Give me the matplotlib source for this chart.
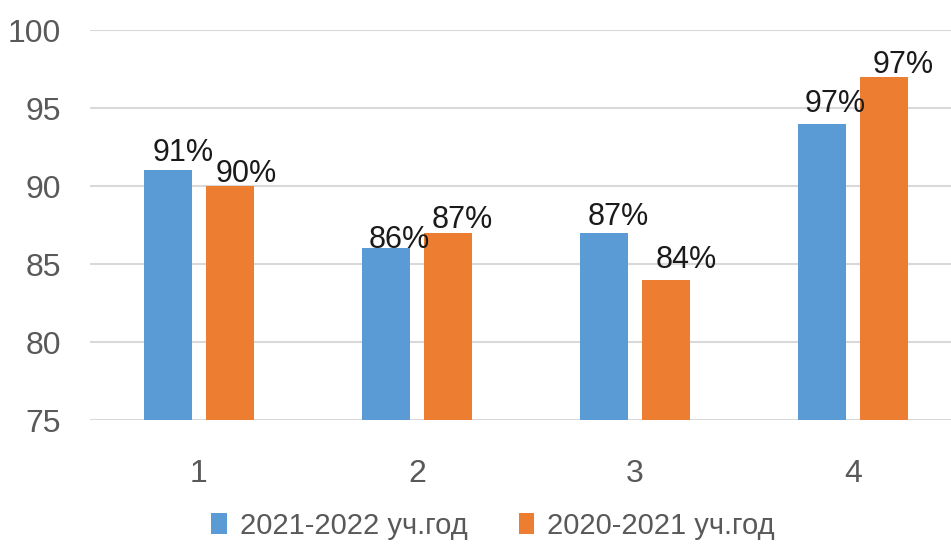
import numpy as np
import matplotlib
matplotlib.use("Agg")
import matplotlib.pyplot as plt

# data
categories = ["1", "2", "3", "4"]
series_names = ["2021-2022 уч.год", "2020-2021 уч.год"]
values_2122 = [91, 86, 87, 94]
values_2021 = [90, 87, 84, 97]
labels_2122 = ["91%", "86%", "87%", "97%"]
labels_2021 = ["90%", "87%", "84%", "97%"]

BLUE = "#5B9BD5"
ORANGE = "#ED7D31"
FONT = ["Liberation Sans", "DejaVu Sans"]
plt.rcParams["font.family"] = FONT

# label nudges in pixels (dx, dy of baseline above bar top)
offs_2122 = [(15, 9), (13, 0), (14, 8), (13, 12)]
offs_2021 = [(16, 4), (14, 5), (20, 12), (19, 4)]

W, H = 951, 545
fig = plt.figure(figsize=(W / 100, H / 100), dpi=100)
ax = fig.add_axes([90 / W, 125 / H, 872 / W, 390 / H])

x = np.arange(1, len(categories) + 1)
bw = 0.22
off = 0.142
b1 = ax.bar(x - off, np.array(values_2122) - 75, bw, bottom=75, color=BLUE,
            label=series_names[0], zorder=3)
b2 = ax.bar(x + off, np.array(values_2021) - 75, bw, bottom=75, color=ORANGE,
            label=series_names[1], zorder=3)

px2pt = 72 / 100
for bars, vals, labs, offs in [(b1, values_2122, labels_2122, offs_2122),
                               (b2, values_2021, labels_2021, offs_2021)]:
    for r, v, lab, (dx, dy) in zip(bars, vals, labs, offs):
        ax.annotate(lab, (r.get_x() + r.get_width() / 2, v),
                    xytext=(dx * px2pt, dy * px2pt), textcoords="offset points",
                    ha="center", va="baseline", fontsize=22,
                    color="#1a1a1a", zorder=4)

ax.set_xlim(0.5, 4.5)
ax.set_ylim(75, 100)
ax.set_yticks(np.arange(75, 101, 5))
ax.set_xticks(x)
ax.set_xticklabels(categories)
ax.yaxis.grid(True, color="#D9D9D9", linewidth=1.5, zorder=0)
ax.set_axisbelow(True)
for s in ax.spines.values():
    s.set_visible(False)
ax.tick_params(axis="both", length=0, labelsize=23, labelcolor="#595959")
ax.tick_params(axis="y", pad=21)
ax.tick_params(axis="x", pad=28)

fig.legend(handles=[b1, b2], labels=series_names, loc="center",
           bbox_to_anchor=(493 / W, 19 / H), ncol=2, frameon=False,
           prop={"size": 21}, labelcolor="#595959",
           handlelength=0.52, handleheight=0.72, handletextpad=0.45,
           columnspacing=1.75)

fig.savefig("out.png", dpi=100)
